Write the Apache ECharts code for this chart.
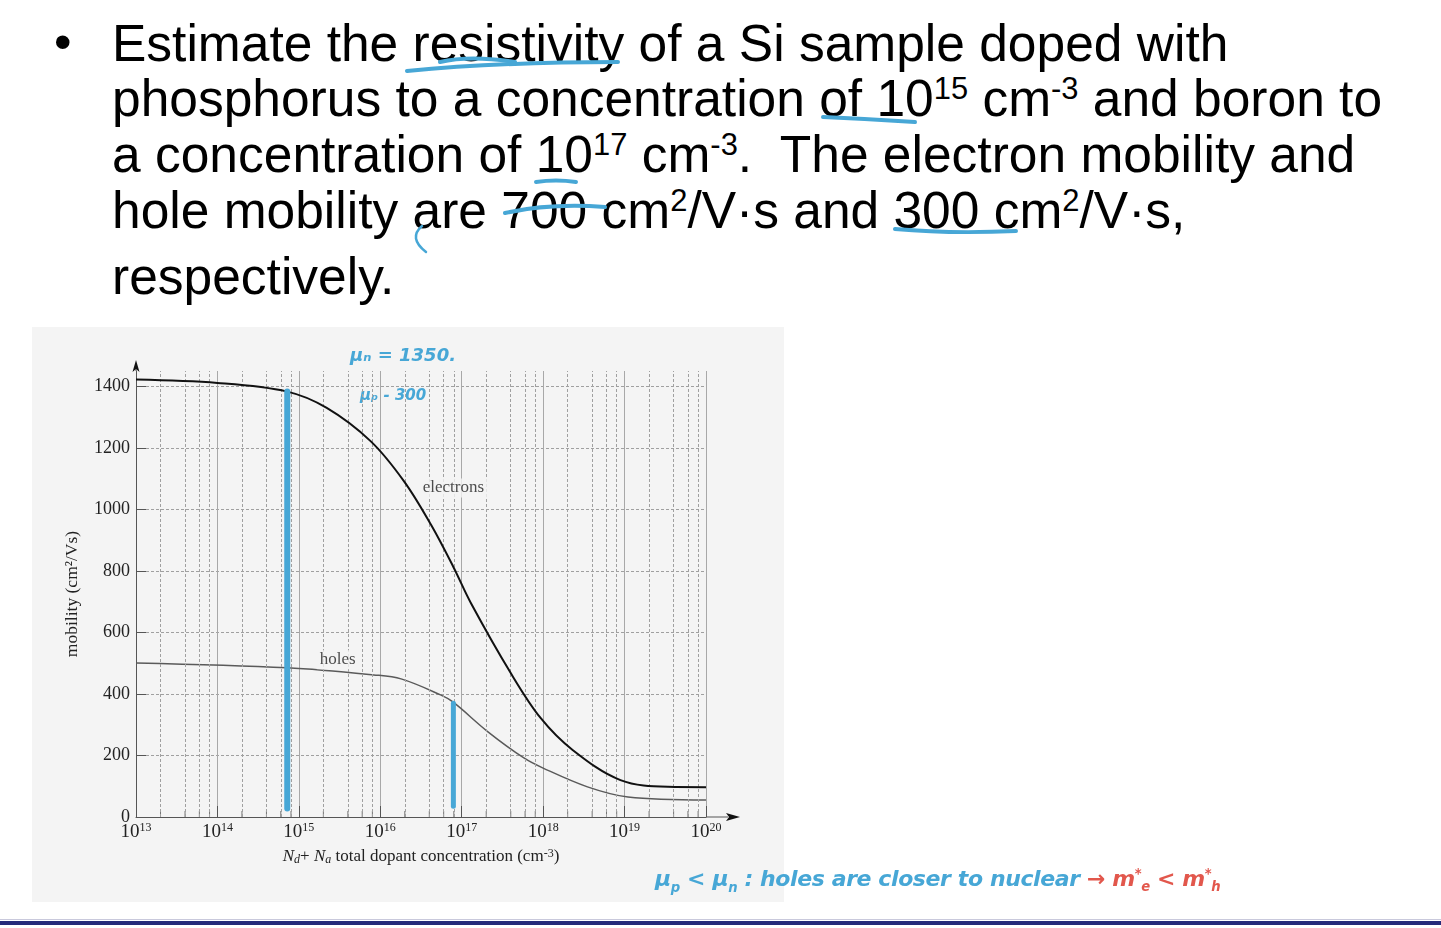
<!DOCTYPE html>
<html>
<head>
<meta charset="utf-8">
<script src="https://cdn.jsdelivr.net/npm/echarts@6/dist/echarts.min.js"></script>
<style>
body{margin:0;width:1441px;height:928px;background:#fff;position:relative;overflow:hidden;font-family:"Liberation Sans",Arial,sans-serif;}
.ln{position:absolute;left:112px;font-size:51.5px;line-height:56px;white-space:nowrap;color:#000;}
.ln sup{font-size:0.6em;vertical-align:0.55em;line-height:0;}
.bullet{position:absolute;left:54px;top:14px;font-size:50px;line-height:56px;}
#chart{position:absolute;left:32px;top:327px;width:752px;height:575px;background:#f4f4f4;}
#strokes{position:absolute;left:0;top:0;}
.note{position:absolute;left:655px;top:866px;font-family:"DejaVu Sans",sans-serif;font-style:italic;font-weight:bold;font-size:22px;color:#47a7d6;white-space:nowrap;letter-spacing:-0.4px;}
.note .red{color:#e2574c;}
.note sub,.note sup{font-size:0.6em;}
.rule1{position:absolute;left:0;top:919px;width:1441px;height:1px;background:#c9c9dc;}
.rule2{position:absolute;left:0;top:921px;width:1441px;height:4px;background:#262a7a;}
</style>
</head>
<body>
<div class="bullet">•</div>
<div class="ln" style="top:15px">Estimate the resistivity of a Si sample doped with</div>
<div class="ln" style="top:70px">phosphorus to a concentration of 10<sup>15</sup> cm<sup>-3</sup> and boron to</div>
<div class="ln" style="top:126px">a concentration of 10<sup>17</sup> cm<sup>-3</sup>.&nbsp; The electron mobility and</div>
<div class="ln" style="top:182px">hole mobility are 700 cm<sup>2</sup>/V·s and 300 cm<sup>2</sup>/V·s,</div>
<div class="ln" style="top:248px">respectively.</div>

<div id="chart"></div>

<svg id="strokes" width="1441" height="928">
  <g fill="none" stroke="#47a7d6" stroke-width="4" stroke-linecap="round">
    <path d="M407 71 Q 500 62 618 62"/>
    <path d="M440 62 Q 470 55 515 62"/>
    <path d="M823 117 Q 870 119 915 122"/>
    <path d="M536 182 Q 556 179 576 182"/>
    <path d="M505 213 Q 550 203 605 207"/>
    <path d="M422 226 Q 408 238 426 252" stroke-width="2.5"/>
    <path d="M895 229 Q 950 234 1016 231"/>
  </g>
</svg>

<div class="note">μ<sub>p</sub> &lt; μ<sub>n</sub> : holes are closer to nuclear <span class="red">→ m<sup>*</sup><sub>e</sub> &lt; m<sup>*</sup><sub>h</sub></span></div>
<div class="rule1"></div>
<div class="rule2"></div>

<script>
// 电子 / 空穴迁移率读数 (cm^2/Vs) vs 总掺杂浓度 (cm^-3)
var elecConc = [1e13, 1e14, 7.2e14, 2.2e15, 7.6e15, 1.95e16, 4.2e16, 7.9e16, 1.3e17, 4e17, 9.3e17, 2.3e18, 8.9e18, 3.4e19, 1e20];
var elecMob  = [1422, 1411, 1383, 1330, 1222, 1092, 950, 813, 695, 468, 322, 218, 120, 98, 97];
var holeConc = [1e13, 7.2e14, 8.3e15, 1.8e16, 5.5e16, 7.8e16, 2.1e17, 5.8e17, 1e18, 3.5e18, 1.1e19, 1e20];
var holeMob  = [501, 485, 462, 449, 397, 374, 277, 192, 159, 98, 65, 55];

var yTicks = [0, 200, 400, 600, 800, 1000, 1200, 1400];
var minorX = [];
for (var d = 13; d < 20; d++) {
  [2, 4, 6, 8].forEach(function (m) { minorX.push(m * Math.pow(10, d)); });
}
// 手写标注的竖线
var markA = [[7.2e14, 28], [7.2e14, 1383]];
var markB = [[7.9e16, 35], [7.9e16, 370]];
var curveLabels = [[7.9e16, 1070, 'electrons'], [3e15, 511, 'holes']];

var serif = '"Liberation Serif","Times New Roman",serif';
var blue = '#47a7d6';

var chart = echarts.init(document.getElementById('chart'));
var option = {
  animation: false,
  grid: {left: 104, right: 78, top: 44, bottom: 85},
  xAxis: {
    type: 'log', logBase: 10, min: 1e13, max: 1e20,
    axisLine: {lineStyle: {color: '#555', width: 1}},
    axisTick: {inside: true, length: 11, lineStyle: {color: '#555'}},
    splitLine: {show: true, lineStyle: {color: '#a8a8a8', width: 1}},
    axisLabel: {
      margin: 5,
      formatter: function (v) { return '{b|10}{s|' + Math.round(Math.log10(v)) + '}'; },
      rich: {
        b: {fontFamily: serif, fontSize: 19, color: '#222', lineHeight: 20},
        s: {fontFamily: serif, fontSize: 12, color: '#222', verticalAlign: 'top', lineHeight: 11}
      }
    },
    name: '{i|N}{sb|d}{t|+ }{i|N}{sb|a}{t| total dopant concentration (cm}{sp|-3}{t|)}',
    nameLocation: 'middle', nameGap: 31,
    nameTextStyle: {
      rich: {
        i: {fontFamily: serif, fontStyle: 'italic', fontSize: 17, color: '#222', lineHeight: 18},
        t: {fontFamily: serif, fontSize: 17, color: '#222', lineHeight: 18},
        sb: {fontFamily: serif, fontStyle: 'italic', fontSize: 12, color: '#222', verticalAlign: 'bottom', lineHeight: 8},
        sp: {fontFamily: serif, fontSize: 12, color: '#222', verticalAlign: 'top', lineHeight: 8}
      }
    }
  },
  yAxis: {
    type: 'value', min: 0, max: 1450, interval: 50,
    axisLine: {show: true, lineStyle: {color: '#555', width: 1}},
    axisTick: {show: true, inside: true, length: 10, customValues: yTicks, lineStyle: {color: '#555'}},
    axisLabel: {
      customValues: yTicks, fontFamily: serif, fontSize: 18, color: '#222', margin: 6,
      formatter: function (v) { return String(v); }
    },
    splitLine: {show: true, lineStyle: {color: '#a0a0a0', width: 1, type: [3, 2]}},
    name: 'mobility (cm²/Vs)', nameLocation: 'middle', nameGap: 55,
    nameTextStyle: {fontFamily: serif, fontSize: 17.5, color: '#222'}
  },
  series: [
    {
      name: 'minor grid', type: 'line', data: [], silent: true, z: 1,
      markLine: {
        silent: true, symbol: 'none', label: {show: false},
        lineStyle: {color: '#a0a0a0', width: 1, type: [3, 2]},
        data: minorX.map(function (v) { return {xAxis: v}; })
      }
    },
    {
      name: 'minor ticks', type: 'scatter', silent: true, z: 3,
      symbol: 'rect', symbolSize: [1, 6], symbolOffset: [0, -3],
      itemStyle: {color: '#555'},
      data: minorX.map(function (v) { return [v, 0]; })
    },
    {
      name: 'holes', type: 'line', smooth: 0.35, showSymbol: false, z: 4,
      lineStyle: {color: '#5a5a5a', width: 1.5},
      data: holeConc.map(function (c, i) { return [c, holeMob[i]]; })
    },
    {
      name: 'electrons', type: 'line', smooth: 0.35, showSymbol: false, z: 5,
      lineStyle: {color: '#111', width: 2},
      data: elecConc.map(function (c, i) { return [c, elecMob[i]]; })
    },
    {
      name: 'labels', type: 'scatter', symbolSize: 0, silent: true, z: 6,
      label: {
        show: true, position: 'inside',
        formatter: function (p) { return p.data[2]; },
        fontFamily: serif, fontSize: 17, color: '#222',
        backgroundColor: '#f4f4f4', padding: [1, 3]
      },
      data: curveLabels
    },
    {
      name: 'markA', type: 'line', showSymbol: false, z: 7, silent: true,
      lineStyle: {color: blue, width: 6, cap: 'round'},
      data: markA
    },
    {
      name: 'markB', type: 'line', showSymbol: false, z: 7, silent: true,
      lineStyle: {color: blue, width: 5, cap: 'round'},
      data: markB
    }
  ]
};
chart.setOption(option);

// 坐标轴箭头 + 手写标注
var pEnd = chart.convertToPixel({gridIndex: 0}, [1e20, 0]);
var pTop = chart.convertToPixel({gridIndex: 0}, [1e13, 1450]);
chart.setOption({
  graphic: [
    {type: 'line', shape: {x1: pEnd[0], y1: pEnd[1], x2: pEnd[0] + 22, y2: pEnd[1]}, style: {stroke: '#555', lineWidth: 1}},
    {type: 'polygon', shape: {points: [[pEnd[0] + 34, pEnd[1]], [pEnd[0] + 20, pEnd[1] - 4], [pEnd[0] + 23, pEnd[1]], [pEnd[0] + 20, pEnd[1] + 4]]}, style: {fill: '#111'}},
    {type: 'line', shape: {x1: pTop[0], y1: pTop[1], x2: pTop[0], y2: pTop[1] - 4}, style: {stroke: '#555', lineWidth: 1}},
    {type: 'polygon', shape: {points: [[pTop[0], pTop[1] - 11], [pTop[0] - 3.5, pTop[1] + 1], [pTop[0], pTop[1] - 2], [pTop[0] + 3.5, pTop[1] + 1]]}, style: {fill: '#111'}},
    {type: 'text', left: 318, top: 20, style: {text: 'μₙ = 1350.', fill: blue, font: 'italic bold 18px "DejaVu Sans"'}},
    {type: 'text', left: 328, top: 62, style: {text: 'μₚ - 300', fill: blue, font: 'italic bold 15px "DejaVu Sans"'}}
  ]
});
</script>
</body>
</html>
